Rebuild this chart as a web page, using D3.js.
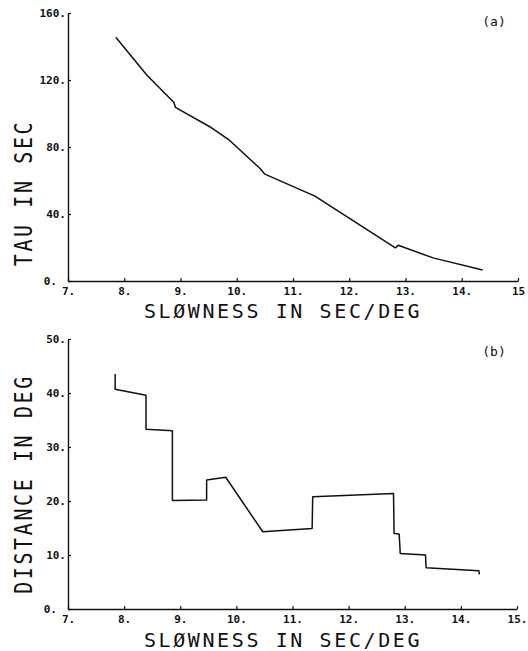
<!DOCTYPE html>
<html>
<head>
<meta charset="utf-8">
<style>
  body { margin: 0; background: #fff; }
  .tick text { font-family: "DejaVu Sans Mono", monospace; font-size: 11px; font-weight: bold; fill: #111; }
  .domain { stroke: #111; stroke-width: 1.4px; }
  .tick line { stroke: #111; stroke-width: 1.2px; }
  .axis-title { font-family: "DejaVu Sans Mono", monospace; font-size: 20px; fill: #111; letter-spacing: 2.6px; }
  .panel-tag { font-family: "DejaVu Sans Mono", monospace; font-size: 13px; fill: #111; }
</style>
</head>
<body>
<div id="chart"></div>
<script src="https://d3js.org/d3.v7.min.js"></script>
<script>
// panel (a): tau vs slowness
var tauSlowness = [7.85, 8.40, 8.88, 8.91, 9.52, 9.85, 10.41, 10.50, 11.39, 12.82, 12.87, 13.49, 14.37];
var tauValues   = [145.5, 123.0, 106.7, 103.7, 92.1, 84.6, 67.3, 63.8, 50.7, 19.8, 21.3, 13.8, 6.6];

// panel (b): distance vs slowness
var distSlowness = [7.84, 7.84, 8.39, 8.39, 8.86, 8.86, 9.47, 9.47, 9.81, 10.47, 11.35, 11.36, 12.80, 12.81, 12.90, 12.92, 13.37, 13.38, 14.32, 14.33];
var distValues   = [43.5, 40.7, 39.6, 33.3, 33.0, 20.1, 20.2, 23.9, 24.4, 14.3, 14.9, 20.8, 21.4, 14.0, 13.9, 10.3, 10.0, 7.65, 7.1, 6.4];

var xTicks = [7, 8, 9, 10, 11, 12, 13, 14, 15];
var xTickLabelsA = ["7.", "8.", "9.", "10.", "11.", "12.", "13.", "14.", "15"];
var xTickLabelsB = ["7.", "8.", "9.", "10.", "11.", "12.", "13.", "14.", "15."];
var tauTicks = [0, 40, 80, 120, 160];
var distTicks = [0, 10, 20, 30, 40, 50];

var W = 528, H = 651;
var svg = d3.select("#chart").append("svg")
    .attr("width", W)
    .attr("height", H);

function panel(opts) {
  var x = d3.scaleLinear().domain([7, 15]).range([opts.left, opts.right]);
  var y = d3.scaleLinear().domain(opts.yDomain).range([opts.bottom, opts.top]);
  var g = svg.append("g");

  // x axis, ticks pointing inward
  g.append("g")
    .attr("transform", "translate(0," + opts.bottom + ")")
    .call(d3.axisBottom(x)
      .tickValues(xTicks)
      .tickSizeInner(-3)
      .tickSizeOuter(0)
      .tickPadding(6)
      .tickFormat(function(d, i) { return opts.xLabels[i]; }));

  // y axis
  var yAxis = g.append("g")
    .attr("transform", "translate(" + opts.left + ",0)")
    .call(d3.axisLeft(y)
      .tickValues(opts.yTicks)
      .tickSizeInner(-3)
      .tickSizeOuter(0)
      .tickPadding(2)
      .tickFormat(function(d) { return d + "."; }));
  // the origin label sits further left, clear of the "7." below it
  yAxis.selectAll(".tick text").filter(function(d) { return d === 0; })
    .attr("dx", -9);

  var line = d3.line()
    .x(function(d) { return x(d[0]); })
    .y(function(d) { return y(d[1]); });

  g.append("path")
    .datum(d3.zip(opts.xs, opts.ys))
    .attr("d", line)
    .attr("fill", "none")
    .attr("stroke", "#111")
    .attr("stroke-width", 1.5)
    .attr("stroke-linejoin", "round");

  g.append("text")
    .attr("class", "axis-title")
    .attr("x", 283)
    .attr("y", opts.xTitleY)
    .attr("text-anchor", "middle")
    .text("SLØWNESS IN SEC/DEG");

  g.append("text")
    .attr("class", "axis-title")
    .attr("text-anchor", "middle")
    .attr("transform", "translate(32," + opts.yTitleMid + ") rotate(-90) scale(1,1.27)")
    .text(opts.yTitle);

  g.append("text")
    .attr("class", "panel-tag")
    .attr("x", 494)
    .attr("y", opts.tagY)
    .attr("text-anchor", "middle")
    .text(opts.tag);
}

panel({
  left: 68, right: 518, top: 13, bottom: 281,
  yDomain: [0, 160], yTicks: tauTicks,
  xLabels: xTickLabelsA,
  xs: tauSlowness, ys: tauValues,
  xTitleY: 318, yTitle: "TAU IN SEC", yTitleMid: 193,
  tag: "(a)", tagY: 26
});

panel({
  left: 68, right: 517, top: 339, bottom: 609,
  yDomain: [0, 50], yTicks: distTicks,
  xLabels: xTickLabelsB,
  xs: distSlowness, ys: distValues,
  xTitleY: 647, yTitle: "DISTANCE IN DEG", yTitleMid: 484,
  tag: "(b)", tagY: 356
});
</script>
</body>
</html>
